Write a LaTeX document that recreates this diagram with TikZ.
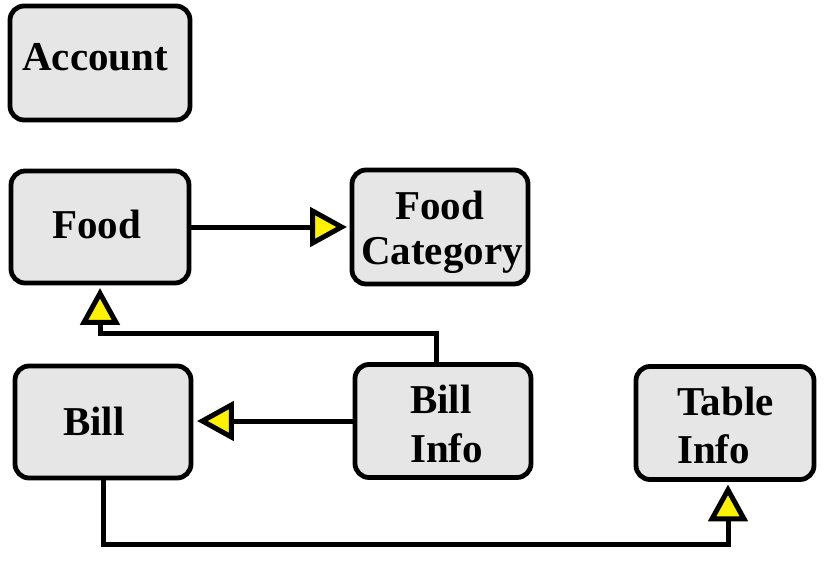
\documentclass[tikz,border=0pt]{standalone}
\usepackage{fontspec}
\setmainfont{Liberation Serif}
\definecolor{boxgray}{HTML}{E6E6E6}
\definecolor{tipyellow}{HTML}{FFF200}
\begin{document}
\begin{tikzpicture}[x=1pt,y=1pt,
 box/.style={draw=black, line width=4.8pt, fill=boxgray, rounded corners=14pt,
   minimum width=176pt, minimum height=112pt, inner sep=0pt},
 lbl/.style={anchor=base west, inner sep=0pt, font=\fontsize{41}{41}\selectfont\bfseries},
 conn/.style={line width=5pt, line join=miter},
 tri/.style={draw=black, line width=5pt, line join=miter, fill=tipyellow}]
\useasboundingbox (0,0) rectangle (828,-565);

\node[box, minimum width=180pt, minimum height=114pt] (account) at (100,-63) {};
\node[box, minimum width=178pt] (food) at (100,-227) {};
\node[box, minimum height=114pt] (foodcat) at (440,-227) {};
\node[box] (bill) at (103,-422) {};
\node[box, minimum height=113pt] (billinfo) at (443,-421) {};
\node[box, minimum width=178pt, minimum height=113pt] (tableinfo) at (725,-423) {};

\node[lbl] (t-account) at (22,-70) {Account};
\node[lbl] (t-food) at (52,-238) {Food};
\node[lbl] (t-fc1) at (395,-219) {Food};
\node[lbl] (t-fc2) at (361,-264) {Category};
\node[lbl] (t-bill) at (63,-435) {Bill};
\node[lbl] (t-bi1) at (410,-413) {Bill};
\node[lbl] (t-bi2) at (410,-462) {Info};
\node[lbl] (t-ti1) at (677,-415) {Table};
\node[lbl] (t-ti2) at (677,-463) {Info};

% Food -> Food Category
\draw[conn] (food.east) -- ([xshift=-37pt]foodcat.west);
\draw[tri] ([xshift=-8pt]foodcat.west) -- ++(-29,16) -- ++(0,-32) -- cycle;
% Bill Info -> Food
\draw[conn] ([xshift=-7pt]billinfo.north) |- (100,-333) -- ([yshift=-37pt]food.south);
\draw[tri] ([yshift=-8pt]food.south) -- ++(-16,-29) -- ++(32,0) -- cycle;
% Bill Info -> Bill
\draw[conn] (billinfo.west) -- ([xshift=37pt]bill.east |- billinfo.west);
\draw[tri] ([xshift=9pt]bill.east |- billinfo.west) -- ++(29,16) -- ++(0,-32) -- cycle;
% Bill -> Table Info
\draw[conn] (bill.south) |- (728,-544) -- ([yshift=-37pt]tableinfo.south -| 728,0);
\draw[tri] ([yshift=-8pt]tableinfo.south -| 728,0) -- ++(-16,-29) -- ++(32,0) -- cycle;
\end{tikzpicture}
\end{document}
